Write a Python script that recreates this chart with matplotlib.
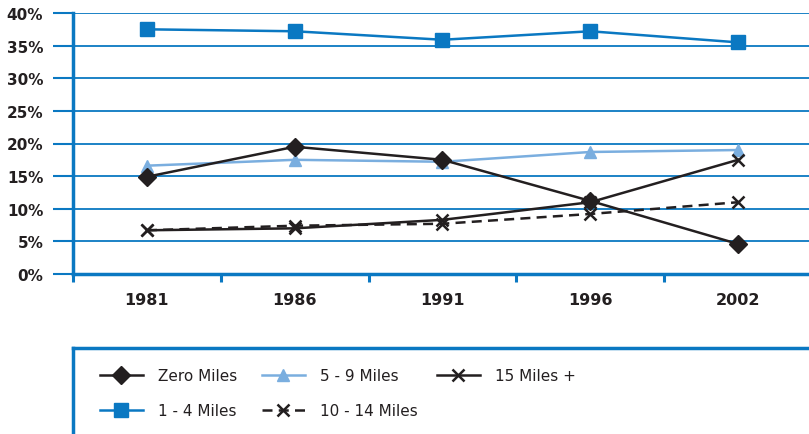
import matplotlib
matplotlib.use("Agg")
import matplotlib.pyplot as plt
from matplotlib.lines import Line2D

years = ["1981", "1986", "1991", "1996", "2002"]
zero_miles = [14.9, 19.5, 17.5, 11.2, 4.6]
one_four = [37.5, 37.2, 35.9, 37.2, 35.5]
five_nine = [16.6, 17.5, 17.2, 18.7, 19.0]
ten_fourteen = [6.7, 7.4, 7.7, 9.2, 11.0]
fifteen_plus = [6.7, 7.0, 8.3, 11.0, 17.5]
y_ticks = [0, 5, 10, 15, 20, 25, 30, 35, 40]
y_labels = ["0%", "5%", "10%", "15%", "20%", "25%", "30%", "35%", "40%"]

BLUE = "#0a78c2"
LBLUE = "#7aaedf"
BLACK = "#231f20"

plt.rcParams['font.family'] = ['DejaVu Sans Condensed', 'DejaVu Sans']

W, H = 809, 435
fig = plt.figure(figsize=(W / 100, H / 100), dpi=100)
ax = fig.add_axes([73 / W, 1 - 275 / H, (812 - 73) / W, (275 - 14) / H])

x = list(range(len(years)))
h_zero, = ax.plot(x, zero_miles, color=BLACK, lw=1.8, marker='D', ms=9, label='Zero Miles', zorder=5)
h_one, = ax.plot(x, one_four, color=BLUE, lw=1.8, marker='s', ms=10, label='1 - 4 Miles', zorder=4)
h_five, = ax.plot(x, five_nine, color=LBLUE, lw=1.8, marker='^', ms=9, label='5 - 9 Miles', zorder=3)
h_ten, = ax.plot(x, ten_fourteen, color=BLACK, lw=1.8, ls=(0, (4, 2.5)), marker='x', ms=8, mew=1.8,
                 label='10 - 14 Miles', zorder=4)
h_fif, = ax.plot(x, fifteen_plus, color=BLACK, lw=1.8, marker='x', ms=9, mew=1.8, label='15 Miles +', zorder=5)

ax.set_xlim(-0.5, len(years) - 0.5)
ax.set_ylim(0, 40)
ax.set_yticks(y_ticks)
ax.set_yticklabels(y_labels)
ax.set_xticks(x)
ax.set_xticklabels(years)
ax.set_xticks([i + 0.5 for i in range(-1, len(years))], minor=True)
ax.tick_params(axis='x', which='major', length=0, pad=13, labelsize=11.5, labelcolor=BLACK)
ax.tick_params(axis='x', which='minor', length=6, width=2.2, color=BLUE)
ax.tick_params(axis='y', which='major', length=14.4, width=1.5, color=BLUE, pad=7,
               labelsize=11, labelcolor=BLACK)
for lab in ax.get_xticklabels() + ax.get_yticklabels():
    lab.set_fontweight('bold')

ax.yaxis.grid(True, color=BLUE, lw=1.3)
ax.set_axisbelow(True)
for s in ['top', 'right']:
    ax.spines[s].set_visible(False)
ax.spines['left'].set_color(BLUE)
ax.spines['left'].set_linewidth(2.5)
ax.spines['bottom'].set_color(BLUE)
ax.spines['bottom'].set_linewidth(2.5)

# legend box (top and left edges)
fig.add_artist(Line2D([73 / W, 1], [1 - 349 / H, 1 - 349 / H], color=BLUE, lw=2.5))
fig.add_artist(Line2D([73 / W, 73 / W], [0, 1 - 349 / H], color=BLUE, lw=2.5))

cols = [([h_zero, h_one], 100), ([h_five, h_ten], 262), ([h_fif], 437)]
for handles, xpx in cols:
    leg = fig.legend(handles=handles, labels=[h.get_label() for h in handles],
                     loc='upper left', bbox_to_anchor=(xpx / W, 1 - 369 / H),
                     frameon=False, fontsize=11, handlelength=2.8, handletextpad=1.0,
                     labelspacing=1.3, borderpad=0, borderaxespad=0)
    for t in leg.get_texts():
        t.set_color(BLACK)

fig.savefig("out.png", dpi=100)
